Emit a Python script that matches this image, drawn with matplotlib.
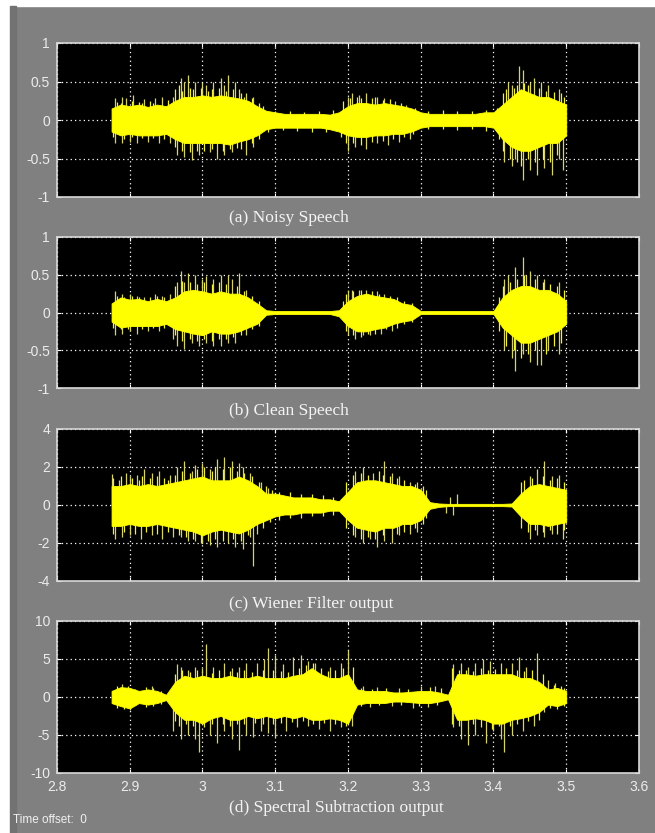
import numpy as np
import matplotlib
matplotlib.use("Agg")
import matplotlib.pyplot as plt
from matplotlib.patches import Rectangle

plt.rcParams['axes.unicode_minus'] = False

# ---------------- data ----------------
t_start, t_end = 2.875, 3.5
n_grid = 51  # envelope samples every 12.5 ms

captions = ["(a) Noisy Speech", "(b) Clean Speech",
            "(c) Wiener Filter output", "(d) Spectral Subtraction output"]
ylims = [(-1, 1), (-1, 1), (-4, 4), (-10, 10)]
yticks = [[-1, -0.5, 0, 0.5, 1], [-1, -0.5, 0, 0.5, 1],
          [-4, -2, 0, 2, 4], [-10, -5, 0, 5, 10]]
ytick_labels = [["-1", "-0.5", "0", "0.5", "1"], ["-1", "-0.5", "0", "0.5", "1"],
                ["-4", "-2", "0", "2", "4"], ["-10", "-5", "0", "5", "10"]]
xticks = [2.8, 2.9, 3.0, 3.1, 3.2, 3.3, 3.4, 3.5, 3.6]
xtick_labels = ["2.8", "2.9", "3", "3.1", "3.2", "3.3", "3.4", "3.5", "3.6"]

# dense core envelope (upper / lower)
noisy_up = [0.15, 0.2, 0.18, 0.2, 0.17, 0.2, 0.18, 0.25, 0.3, 0.3, 0.32, 0.3, 0.32,
            0.3, 0.28, 0.25, 0.18, 0.12, 0.1, 0.08, 0.08, 0.08, 0.08, 0.08, 0.07,
            0.1, 0.18, 0.22, 0.22, 0.2, 0.22, 0.2, 0.18, 0.15, 0.1, 0.08, 0.08,
            0.08, 0.08, 0.08, 0.08, 0.1, 0.1, 0.2, 0.3, 0.4, 0.35, 0.3, 0.3, 0.25, 0.2]
noisy_lo = [-0.15, -0.2, -0.18, -0.2, -0.2, -0.2, -0.18, -0.25, -0.3, -0.3, -0.3,
            -0.3, -0.3, -0.32, -0.28, -0.25, -0.2, -0.12, -0.1, -0.1, -0.1, -0.1,
            -0.1, -0.1, -0.12, -0.15, -0.2, -0.22, -0.22, -0.2, -0.2, -0.18, -0.18,
            -0.15, -0.1, -0.08, -0.08, -0.08, -0.08, -0.08, -0.08, -0.08, -0.1,
            -0.25, -0.35, -0.4, -0.4, -0.35, -0.3, -0.3, -0.2]

clean_up = [0.12, 0.2, 0.17, 0.18, 0.15, 0.18, 0.15, 0.2, 0.28, 0.3, 0.28, 0.25,
            0.28, 0.25, 0.25, 0.2, 0.12, 0.03, 0.02, 0.02, 0.02, 0.02, 0.02, 0.02,
            0.02, 0.03, 0.15, 0.22, 0.25, 0.22, 0.2, 0.18, 0.12, 0.1, 0.02, 0.02,
            0.02, 0.02, 0.02, 0.02, 0.02, 0.02, 0.02, 0.2, 0.3, 0.35, 0.35, 0.3,
            0.3, 0.25, 0.15]
clean_lo = [-0.12, -0.2, -0.18, -0.18, -0.18, -0.18, -0.15, -0.22, -0.25, -0.28,
            -0.3, -0.25, -0.28, -0.28, -0.25, -0.2, -0.15, -0.03, -0.02, -0.02,
            -0.02, -0.02, -0.02, -0.02, -0.02, -0.05, -0.18, -0.25, -0.25, -0.22,
            -0.2, -0.15, -0.12, -0.1, -0.02, -0.02, -0.02, -0.02, -0.02, -0.02,
            -0.02, -0.02, -0.02, -0.2, -0.3, -0.4, -0.4, -0.35, -0.3, -0.25, -0.15]

wiener_up = [1.0, 1.0, 1.1, 1.0, 1.1, 1.0, 1.1, 1.2, 1.3, 1.4, 1.5, 1.3, 1.3, 1.3,
             1.5, 1.3, 1.0, 0.6, 0.6, 0.5, 0.4, 0.4, 0.4, 0.3, 0.3, 0.2, 0.7, 1.2,
             1.3, 1.3, 1.2, 1.1, 1.0, 1.0, 0.8, 0.15, 0.08, 0.06, 0.06, 0.06, 0.06,
             0.06, 0.06, 0.06, 0.08, 0.6, 1.0, 1.1, 1.0, 0.9, 0.8]
wiener_lo = [-1.1, -1.1, -1.0, -1.1, -1.1, -1.0, -1.1, -1.2, -1.3, -1.4, -1.6, -1.4,
             -1.3, -1.4, -1.5, -1.3, -1.0, -0.8, -0.6, -0.5, -0.5, -0.4, -0.4, -0.4,
             -0.3, -0.3, -0.8, -1.2, -1.3, -1.4, -1.2, -1.2, -1.0, -1.0, -0.8, -0.2,
             -0.1, -0.06, -0.06, -0.06, -0.06, -0.06, -0.06, -0.06, -0.08, -0.6,
             -1.0, -1.0, -1.1, -1.0, -0.9]

spectral_up = [0.8, 1.3, 1.2, 0.8, 1.0, 0.8, 0.3, 2.0, 2.8, 2.5, 2.8, 2.5, 2.5, 2.8,
               2.5, 2.5, 2.8, 2.5, 2.5, 2.5, 2.8, 3.0, 3.8, 3.0, 2.5, 2.5, 3.0, 1.0,
               0.8, 0.8, 0.8, 0.6, 0.6, 0.7, 0.8, 0.8, 0.6, 0.3, 3.0, 3.0, 2.8, 3.0,
               3.0, 3.0, 3.0, 2.5, 2.5, 2.0, 1.0, 1.2, 0.8]
spectral_lo = [-0.8, -1.2, -1.5, -0.8, -1.0, -0.8, -0.4, -2.0, -3.0, -3.0, -3.5,
               -2.8, -2.5, -3.0, -3.0, -2.5, -2.8, -2.5, -2.8, -2.5, -2.8, -2.5,
               -3.0, -3.0, -2.8, -3.0, -3.5, -1.0, -0.8, -0.8, -0.8, -0.6, -0.6,
               -0.7, -0.8, -0.8, -0.6, -0.3, -3.0, -3.0, -2.8, -3.0, -3.5, -3.5,
               -3.0, -2.8, -2.5, -2.0, -1.0, -1.2, -0.8]

# tall isolated spikes: times and peak values (up / down)
noisy_up_t = [2.88, 2.89, 2.895, 2.905, 2.92, 2.935, 2.945, 2.96, 2.97, 2.975, 2.98,
              2.99, 3.0, 3.005, 3.015, 3.025, 3.03, 3.035, 3.045, 3.05, 3.06, 3.07,
              3.2, 3.205, 3.215, 3.225, 3.24, 3.25, 3.265, 3.28, 3.42, 3.425, 3.435,
              3.44, 3.45, 3.455, 3.465, 3.475, 3.49]
noisy_up_v = [0.28, 0.3, 0.28, 0.32, 0.27, 0.28, 0.3, 0.3, 0.55, 0.5, 0.58, 0.5, 0.48,
              0.45, 0.5, 0.55, 0.45, 0.58, 0.5, 0.4, 0.35, 0.3, 0.3, 0.35, 0.32, 0.35,
              0.3, 0.28, 0.25, 0.2, 0.5, 0.45, 0.7, 0.65, 0.5, 0.55, 0.5, 0.45, 0.4]
noisy_dn_t = [2.88, 2.89, 2.9, 2.91, 2.925, 2.94, 2.955, 2.965, 2.975, 2.985, 2.995,
              3.01, 3.02, 3.03, 3.04, 3.06, 3.07, 3.2, 3.21, 3.225, 3.24, 3.255, 3.27,
              3.285, 3.415, 3.425, 3.43, 3.44, 3.45, 3.46, 3.47, 3.48, 3.49, 3.495]
noisy_dn_v = [-0.3, -0.3, -0.28, -0.3, -0.28, -0.3, -0.3, -0.45, -0.48, -0.52, -0.45,
              -0.42, -0.5, -0.45, -0.42, -0.45, -0.35, -0.4, -0.35, -0.38, -0.3, -0.32,
              -0.28, -0.25, -0.55, -0.6, -0.5, -0.78, -0.65, -0.72, -0.62, -0.72,
              -0.5, -0.65]

clean_up_t = [2.88, 2.89, 2.9, 2.91, 2.92, 2.935, 2.945, 2.955, 2.965, 2.97, 2.975,
              2.98, 2.99, 3.0, 3.005, 3.015, 3.025, 3.035, 3.04, 3.05, 3.06, 3.2,
              3.205, 3.215, 3.225, 3.24, 3.25, 3.415, 3.42, 3.43, 3.44, 3.445, 3.45,
              3.46, 3.47, 3.49]
clean_up_v = [0.28, 0.25, 0.25, 0.22, 0.2, 0.25, 0.22, 0.25, 0.4, 0.55, 0.4, 0.52,
              0.5, 0.45, 0.48, 0.45, 0.5, 0.5, 0.45, 0.52, 0.3, 0.3, 0.3, 0.3, 0.3,
              0.28, 0.25, 0.45, 0.5, 0.6, 0.73, 0.5, 0.55, 0.5, 0.45, 0.4]
clean_dn_t = [2.88, 2.89, 2.9, 2.91, 2.925, 2.94, 2.96, 2.965, 2.975, 2.985, 2.995,
              3.005, 3.015, 3.025, 3.035, 3.045, 3.06, 3.2, 3.21, 3.22, 3.23, 3.245,
              3.26, 3.415, 3.425, 3.43, 3.44, 3.45, 3.46, 3.465, 3.475, 3.49]
clean_dn_v = [-0.3, -0.28, -0.25, -0.28, -0.25, -0.25, -0.35, -0.45, -0.48, -0.4,
              -0.45, -0.4, -0.45, -0.45, -0.4, -0.4, -0.3, -0.3, -0.35, -0.3, -0.3,
              -0.28, -0.25, -0.5, -0.6, -0.77, -0.55, -0.65, -0.7, -0.7, -0.5, -0.55]

wiener_up_t = [2.875, 2.885, 2.895, 2.9, 2.91, 2.92, 2.93, 2.94, 2.955, 2.965, 2.975,
               2.985, 2.99, 3.0, 3.01, 3.02, 3.03, 3.04, 3.05, 3.055, 3.065, 3.08,
               3.09, 3.21, 3.22, 3.235, 3.25, 3.26, 3.27, 3.285, 3.295, 3.34, 3.35,
               3.45, 3.46, 3.47, 3.48, 3.49]
wiener_up_v = [1.65, 1.3, 1.7, 1.5, 1.6, 1.9, 1.7, 1.8, 1.6, 2.0, 2.3, 1.8, 2.1, 2.2,
               1.9, 2.4, 2.5, 2.3, 2.2, 2.0, 1.7, 1.2, 0.9, 1.8, 2.0, 1.7, 2.3, 1.7,
               1.5, 1.2, 1.2, 0.4, 0.6, 1.5, 1.9, 2.3, 1.5, 1.6]
wiener_dn_t = [2.88, 2.89, 2.9, 2.915, 2.93, 2.945, 2.96, 2.97, 2.98, 2.99, 3.0, 3.01,
               3.02, 3.035, 3.045, 3.055, 3.065, 3.07, 3.075, 3.21, 3.22, 3.23, 3.24,
               3.25, 3.26, 3.27, 3.285, 3.295, 3.335, 3.345, 3.45, 3.46, 3.47, 3.48,
               3.495]
wiener_dn_v = [-1.8, -1.7, -1.6, -1.8, -1.6, -1.8, -1.7, -1.7, -1.9, -1.9, -2.0, -2.1,
               -2.2, -2.0, -2.2, -2.3, -1.7, -3.2, -1.5, -1.7, -2.0, -1.8, -2.2, -1.9,
               -2.0, -1.6, -1.5, -1.4, -0.4, -0.5, -1.8, -1.6, -1.7, -1.5, -1.8]

spectral_up_t = [2.89, 2.93, 2.965, 2.97, 2.98, 2.99, 3.0, 3.005, 3.015, 3.03, 3.04,
                 3.05, 3.06, 3.075, 3.085, 3.09, 3.1, 3.11, 3.125, 3.135, 3.145,
                 3.155, 3.175, 3.19, 3.2, 3.22, 3.24, 3.27, 3.3, 3.32, 3.345, 3.355,
                 3.365, 3.375, 3.385, 3.395, 3.41, 3.425, 3.435, 3.445, 3.46, 3.475,
                 3.485]
spectral_up_v = [1.7, 1.5, 4.3, 4.0, 3.5, 4.0, 3.8, 7.0, 4.0, 4.5, 3.8, 4.0, 4.5, 4.5,
                 5.0, 6.5, 5.5, 4.3, 5.2, 5.5, 4.8, 4.5, 4.0, 4.5, 6.2, 1.4, 1.3, 1.2,
                 1.5, 1.5, 4.3, 4.5, 4.0, 4.5, 5.0, 4.8, 4.5, 4.5, 5.2, 4.0, 5.8, 2.2,
                 1.8]
spectral_dn_t = [2.9, 2.96, 2.97, 2.98, 2.99, 2.995, 3.01, 3.02, 3.03, 3.04, 3.05,
                 3.06, 3.07, 3.08, 3.09, 3.1, 3.115, 3.13, 3.145, 3.16, 3.175, 3.19,
                 3.205, 3.23, 3.26, 3.29, 3.31, 3.345, 3.355, 3.365, 3.375, 3.39, 3.4,
                 3.41, 3.415, 3.425, 3.44, 3.455, 3.47]
spectral_dn_v = [-1.7, -4.5, -5.5, -5.0, -5.5, -7.2, -5.0, -6.0, -4.5, -5.5, -7.0,
                 -5.0, -5.3, -4.5, -4.8, -5.2, -4.5, -4.0, -3.8, -4.2, -4.5, -4.0,
                 -3.8, -1.3, -1.2, -1.4, -1.3, -4.0, -5.5, -6.3, -5.0, -6.0, -4.5,
                 -5.5, -7.2, -5.0, -4.5, -3.8, -2.0]

# shorter spikes fringing the dense core (up / down)
noisy_fr_up_t = [2.8825, 2.8875, 2.9025, 2.9125, 2.9175, 2.9275, 2.9325, 2.9525, 2.9625,
                 2.9675, 2.9725, 2.9825, 2.9875, 2.9975, 3.0075, 3.0125, 3.0225, 3.0325,
                 3.0425, 3.0525, 3.0575, 3.0675, 3.0775, 3.0825, 3.1, 3.12, 3.14, 3.16,
                 3.18, 3.1925, 3.2025, 3.2125, 3.2175, 3.2325, 3.2375, 3.2475, 3.2575,
                 3.2725, 3.2925, 3.31, 3.33, 3.35, 3.37, 3.39, 3.405, 3.4125, 3.4175,
                 3.4275, 3.4325, 3.4425, 3.4475, 3.4625, 3.4725, 3.4825, 3.4925, 3.4975]
noisy_fr_up_v = [0.24, 0.22, 0.25, 0.24, 0.22, 0.25, 0.22, 0.26, 0.4, 0.45, 0.38, 0.42,
                 0.4, 0.42, 0.38, 0.4, 0.42, 0.38, 0.4, 0.35, 0.3, 0.28, 0.22, 0.18,
                 0.12, 0.12, 0.11, 0.12, 0.13, 0.25, 0.28, 0.3, 0.28, 0.28, 0.3, 0.26,
                 0.27, 0.22, 0.15, 0.12, 0.13, 0.12, 0.12, 0.13, 0.15, 0.35, 0.4, 0.42,
                 0.45, 0.48, 0.45, 0.42, 0.38, 0.36, 0.35, 0.3]
noisy_fr_dn_t = [2.8775, 2.8925, 2.9025, 2.9175, 2.9325, 2.9475, 2.9625, 2.9725, 2.9825,
                 2.9925, 3.0025, 3.0125, 3.0275, 3.0375, 3.0475, 3.0525, 3.0675, 3.0775,
                 3.09, 3.11, 3.13, 3.15, 3.17, 3.19, 3.1975, 3.2075, 3.2175, 3.2325,
                 3.2475, 3.2625, 3.2775, 3.29, 3.31, 3.33, 3.35, 3.37, 3.39, 3.4075,
                 3.4125, 3.4225, 3.4325, 3.4375, 3.4475, 3.4575, 3.4675, 3.4775, 3.4875]
noisy_fr_dn_v = [-0.22, -0.25, -0.22, -0.24, -0.24, -0.25, -0.35, -0.4, -0.42, -0.4,
                 -0.4, -0.38, -0.4, -0.38, -0.36, -0.38, -0.3, -0.25, -0.16, -0.13,
                 -0.14, -0.15, -0.16, -0.22, -0.3, -0.3, -0.32, -0.28, -0.27, -0.25,
                 -0.22, -0.18, -0.12, -0.12, -0.13, -0.12, -0.14, -0.25, -0.4, -0.5,
                 -0.55, -0.6, -0.5, -0.55, -0.5, -0.55, -0.45]

clean_fr_up_t = [2.8825, 2.8925, 2.9025, 2.9125, 2.9275, 2.9375, 2.9475, 2.9625, 2.9725,
                 2.9825, 2.9925, 3.0025, 3.0125, 3.0225, 3.0325, 3.0475, 3.0575, 3.0675,
                 3.0775, 3.1925, 3.1975, 3.2075, 3.2175, 3.2325, 3.2425, 3.2575, 3.2675,
                 3.2775, 3.2875, 3.4075, 3.4125, 3.4225, 3.4325, 3.4425, 3.4575, 3.4675,
                 3.4775, 3.4875, 3.4975]
clean_fr_up_v = [0.22, 0.2, 0.22, 0.2, 0.2, 0.22, 0.2, 0.35, 0.42, 0.4, 0.38, 0.4, 0.38,
                 0.4, 0.38, 0.35, 0.28, 0.22, 0.15, 0.15, 0.25, 0.28, 0.3, 0.28, 0.25,
                 0.22, 0.2, 0.15, 0.12, 0.2, 0.35, 0.4, 0.45, 0.5, 0.45, 0.4, 0.38,
                 0.35, 0.3]
clean_fr_dn_t = [2.8775, 2.8875, 2.8975, 2.9175, 2.9325, 2.9475, 2.9625, 2.9725, 2.9825,
                 2.9925, 3.0025, 3.0125, 3.0225, 3.0325, 3.0425, 3.0525, 3.0675, 3.0775,
                 3.1975, 3.2075, 3.2175, 3.2275, 3.2375, 3.2525, 3.2675, 3.2775, 3.2875,
                 3.4075, 3.4175, 3.4275, 3.4375, 3.4475, 3.4575, 3.4725, 3.4825, 3.4925]
clean_fr_dn_v = [-0.2, -0.22, -0.22, -0.22, -0.2, -0.2, -0.3, -0.38, -0.35, -0.38,
                 -0.35, -0.38, -0.35, -0.35, -0.32, -0.3, -0.22, -0.18, -0.25, -0.3,
                 -0.32, -0.28, -0.28, -0.22, -0.2, -0.15, -0.12, -0.25, -0.45, -0.5,
                 -0.6, -0.55, -0.5, -0.55, -0.45, -0.4]

wiener_fr_up_t = [2.8775, 2.8875, 2.9025, 2.9125, 2.9175, 2.9275, 2.9375, 2.9475, 2.9525,
                  2.9625, 2.9725, 2.9825, 2.9925, 3.0025, 3.0125, 3.0175, 3.0275, 3.0375,
                  3.0475, 3.0575, 3.0675, 3.0775, 3.0875, 3.095, 3.105, 3.12, 3.135,
                  3.15, 3.165, 3.18, 3.1975, 3.2075, 3.2175, 3.2275, 3.2425, 3.2475,
                  3.2575, 3.2675, 3.2775, 3.2925, 3.3025, 3.3075, 3.4375, 3.4425,
                  3.4525, 3.4675, 3.4775, 3.4875, 3.4975]
wiener_fr_up_v = [1.4, 1.5, 1.4, 1.3, 1.5, 1.4, 1.5, 1.4, 1.3, 1.6, 1.8, 1.7, 1.9, 2.0,
                  1.8, 2.0, 1.9, 2.0, 1.8, 1.7, 1.5, 1.2, 1.0, 0.8, 0.7, 0.7, 0.6, 0.6,
                  0.5, 0.4, 1.2, 1.6, 1.7, 1.6, 1.8, 1.6, 1.5, 1.4, 1.3, 1.1, 1.0, 0.8,
                  1.2, 1.3, 1.4, 1.5, 1.3, 1.4, 1.2]
wiener_fr_dn_t = [2.8775, 2.8925, 2.9075, 2.9225, 2.9375, 2.9525, 2.9675, 2.9775, 2.9875,
                  2.9975, 3.0075, 3.0175, 3.0275, 3.0425, 3.0525, 3.0625, 3.0825, 3.0925,
                  3.105, 3.12, 3.135, 3.15, 3.165, 3.18, 3.1975, 3.2075, 3.2175, 3.2275,
                  3.2375, 3.2475, 3.2675, 3.2775, 3.2925, 3.3025, 3.3075, 3.4375, 3.4475,
                  3.4575, 3.4675, 3.4775, 3.4875, 3.4975]
wiener_fr_dn_v = [-1.5, -1.4, -1.5, -1.4, -1.5, -1.4, -1.6, -1.7, -1.8, -2.0, -1.9,
                  -1.8, -1.9, -1.8, -1.9, -1.6, -1.2, -0.9, -0.8, -0.7, -0.7, -0.6,
                  -0.6, -0.5, -1.2, -1.6, -1.8, -1.7, -1.8, -1.6, -1.5, -1.4, -1.2,
                  -1.0, -0.7, -1.2, -1.4, -1.3, -1.4, -1.3, -1.5, -1.3]

spectral_fr_up_t = [2.8825, 2.8975, 2.9075, 2.9225, 2.9325, 2.9425, 2.9625, 2.9725,
                    2.9825, 2.9925, 3.0125, 3.0225, 3.0375, 3.0475, 3.0575, 3.0675,
                    3.0825, 3.0975, 3.1075, 3.1175, 3.1325, 3.1425, 3.1525, 3.1625,
                    3.1725, 3.1825, 3.1925, 3.2075, 3.2175, 3.2325, 3.2525, 3.2825,
                    3.3125, 3.3275, 3.3425, 3.3525, 3.3625, 3.3725, 3.3825, 3.3925,
                    3.4025, 3.4175, 3.4325, 3.4425, 3.4525, 3.4675, 3.4825, 3.4925,
                    3.4975]
spectral_fr_up_v = [1.5, 1.4, 1.0, 1.3, 1.2, 0.8, 3.0, 3.5, 3.3, 3.5, 3.2, 3.5, 3.4,
                    3.3, 3.5, 3.3, 3.6, 3.5, 3.4, 3.3, 3.8, 4.2, 4.5, 3.8, 3.4, 3.5,
                    3.8, 4.0, 1.2, 1.1, 1.2, 1.0, 1.3, 1.2, 3.8, 3.6, 3.5, 3.4, 3.8,
                    3.6, 3.7, 3.8, 3.6, 3.4, 3.5, 3.0, 1.6, 1.5, 1.2]
spectral_fr_dn_t = [2.8825, 2.8925, 2.9075, 2.9225, 2.9325, 2.9425, 2.9625, 2.9675,
                    2.9775, 2.9875, 3.0025, 3.0125, 3.0275, 3.0375, 3.0475, 3.0575,
                    3.0725, 3.0825, 3.0975, 3.1075, 3.1225, 3.1375, 3.1525, 3.1675,
                    3.1825, 3.1975, 3.2175, 3.2425, 3.2725, 3.2975, 3.3225, 3.3425,
                    3.3525, 3.3725, 3.3825, 3.3975, 3.4075, 3.4225, 3.4325, 3.4475,
                    3.4625, 3.4775, 3.4875, 3.4975]
spectral_fr_dn_v = [-1.4, -1.6, -1.1, -1.3, -1.2, -0.9, -3.2, -3.8, -3.6, -3.8, -4.0,
                    -3.6, -3.5, -3.8, -3.5, -3.6, -3.4, -3.5, -3.6, -3.4, -3.3, -3.2,
                    -3.6, -3.4, -3.5, -3.8, -1.2, -1.1, -1.0, -1.2, -1.1, -3.6, -3.8,
                    -3.6, -4.0, -4.2, -3.8, -3.8, -3.5, -3.2, -3.0, -1.5, -1.6, -1.2]

panels = [
    (noisy_up, noisy_lo, noisy_up_t, noisy_up_v, noisy_dn_t, noisy_dn_v,
     noisy_fr_up_t, noisy_fr_up_v, noisy_fr_dn_t, noisy_fr_dn_v),
    (clean_up, clean_lo, clean_up_t, clean_up_v, clean_dn_t, clean_dn_v,
     clean_fr_up_t, clean_fr_up_v, clean_fr_dn_t, clean_fr_dn_v),
    (wiener_up, wiener_lo, wiener_up_t, wiener_up_v, wiener_dn_t, wiener_dn_v,
     wiener_fr_up_t, wiener_fr_up_v, wiener_fr_dn_t, wiener_fr_dn_v),
    (spectral_up, spectral_lo, spectral_up_t, spectral_up_v, spectral_dn_t,
     spectral_dn_v, spectral_fr_up_t, spectral_fr_up_v, spectral_fr_dn_t,
     spectral_fr_dn_v),
]

# ---------------- figure ----------------
W, H = 655, 833
fig = plt.figure(figsize=(W / 100, H / 100), dpi=100, facecolor='#808080')

# window borders
fig.add_artist(Rectangle((0, 1 - 6 / H), 1, 6 / H, transform=fig.transFigure,
                         color='white', zorder=0))
fig.add_artist(Rectangle((0, 0), 10 / W, 1, transform=fig.transFigure,
                         color='white', zorder=0))
fig.add_artist(Rectangle((10 / W, 0), 6 / W, 1 - 6 / H, transform=fig.transFigure,
                         color='#727272', zorder=0))

# axes pixel boxes (top, bottom)
boxes = [(43, 197), (237, 388), (429, 581), (621, 773)]
x0, x1 = 57, 639
cap_y = [218, 411, 604, 808]
cap_x = 229

t = np.linspace(t_start, t_end, n_grid)
tick_col = '#ececec'

for i, (box, data) in enumerate(zip(boxes, panels)):
    top, bot = box
    ax = fig.add_axes([x0 / W, 1 - bot / H, (x1 - x0) / W, (bot - top) / H])
    ax.set_facecolor('black')
    up, lo, ut, uv, dt, dv, fut, fuv, fdt, fdv = data
    ax.fill_between(t, lo, up, color='#ffff00', lw=0.6, edgecolor='#ffff00', zorder=3)
    ax.vlines(ut, 0, uv, color='#d6d36c', lw=0.9, zorder=2)
    ax.vlines(dt, 0, dv, color='#d6d36c', lw=0.9, zorder=2)
    ax.vlines(fut, 0, fuv, color='#f2f03a', lw=0.9, zorder=2)
    ax.vlines(fdt, 0, fdv, color='#f2f03a', lw=0.9, zorder=2)
    ax.set_xlim(2.8, 3.6)
    ax.set_ylim(*ylims[i])
    ax.set_xticks(xticks)
    ax.set_yticks(yticks[i])
    ax.set_yticklabels(ytick_labels[i])
    if i == 3:
        ax.set_xticklabels(xtick_labels)
    else:
        ax.set_xticklabels([])
    ax.grid(True, color='white', linestyle=(0, (1, 2.5)), lw=0.9, zorder=1)
    ax.tick_params(direction='in', length=3, color='white', labelcolor=tick_col,
                   labelsize=10, pad=5, top=True, right=True)
    for lab in ax.get_xticklabels() + ax.get_yticklabels():
        lab.set_family('Liberation Sans')
    for s in ax.spines.values():
        s.set_color('#d8d8d8')
        s.set_linewidth(1.2)
    fig.text(cap_x / W, 1 - cap_y[i] / H, captions[i], family='Liberation Serif',
             fontsize=12.5, color='#f4f4f4', ha='left', va='center')

fig.text(13 / W, 1 - 820 / H, "Time offset:  0", family='Liberation Sans',
         fontsize=8.5, color='#f0f0f0', ha='left', va='center')

fig.savefig('out.png', dpi=100, facecolor=fig.get_facecolor())
